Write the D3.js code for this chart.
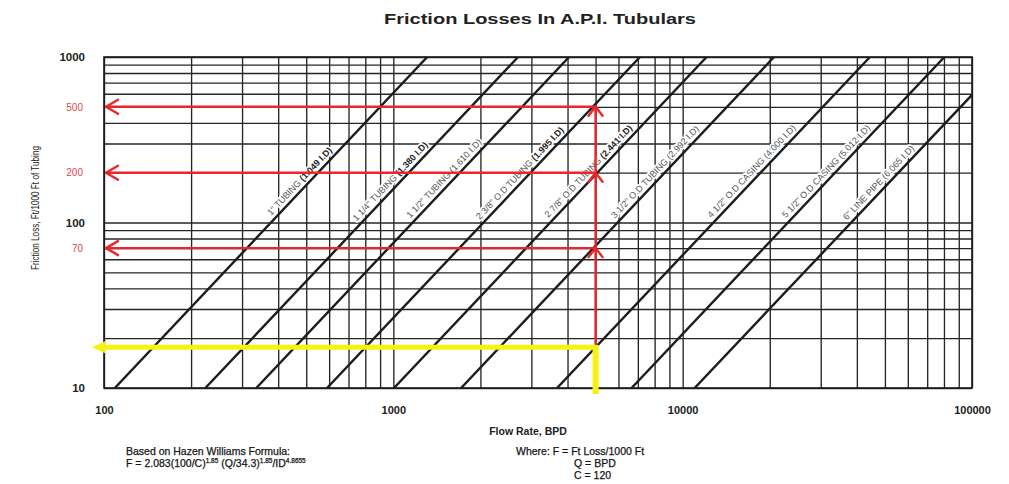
<!DOCTYPE html>
<html>
<head>
<meta charset="utf-8">
<script src="https://cdn.jsdelivr.net/npm/d3@7"></script>
<style>
  html, body { margin: 0; padding: 0; background: #fff; }
  svg { display: block; font-family: "Liberation Sans", Arial, Helvetica, sans-serif; }
</style>
</head>
<body>
<svg id="chart" width="1009" height="484"></svg>
<script>
// ---- Data -------------------------------------------------------------
// API tubular sizes and their inside diameters
const tubularNames = ['1" TUBING', '1 1/4" TUBING', '1 1/2" TUBING', '2 3/8" O.D TUBING',
  '2 7/8" O.D TUBING', '3 1/2" O.D TUBING', '4 1/2" O.D CASING', '5 1/2" O.D CASING', '6" LINE PIPE'];
const tubularIDs = ['1.049', '1.380', '1.610', '1.995', '2.441', '2.992', '4.000', '5.012', '6.065'];

// End points of each friction-loss line (flow in BPD, loss in ft/1000 ft)
const flowAtBottom = [109, 224, 336, 590, 1005, 1715, 3680, 6660, 11000];
const lossAtBottom = [10, 10, 10, 10, 10, 10, 10, 10, 10];
const flowAtTop = [1310, 2700, 4050, 7120, 12100, 20700, 44400, 80300, 100000];
const lossAtTop = [1000, 1000, 1000, 1000, 1000, 1000, 1000, 1000, 590];

// Axis tick labels
const flowTicks = [100, 1000, 10000, 100000];
const lossTicks = [10, 100, 1000];

// Worked reading at 5000 BPD
const readFlow = 5000;
const readLosses = [500, 200, 70];
const casingLoss = 17.6;

// ---- Layout and style ---------------------------------------------------
const plot = { left: 104, right: 972, top: 57, bottom: 388 };
const labelLoss = [165, 165, 172, 185, 190, 188, 190, 190, 162];
const boldId = [true, true, false, true, true, false, false, false, false];
const ink = "#1c1c1c";
const red = "#e8262b";
const yellow = "#f7f311";

const svg = d3.select("#chart");

const x = d3.scaleLog().domain([100, 100000]).range([plot.left, plot.right]);
const y = d3.scaleLog().domain([10, 1000]).range([plot.bottom, plot.top]);

// Grid lines from the log axes
svg.append("g")
  .attr("transform", `translate(0,${plot.bottom})`)
  .call(d3.axisBottom(x).tickSize(-(plot.bottom - plot.top)).tickFormat(""))
  .call(g => g.select(".domain").remove())
  .call(g => g.selectAll(".tick line").attr("stroke", "#262626").attr("stroke-width", 1.35));

svg.append("g")
  .attr("transform", `translate(${plot.left},0)`)
  .call(d3.axisLeft(y).tickSize(-(plot.right - plot.left)).tickFormat(""))
  .call(g => g.select(".domain").remove())
  .call(g => g.selectAll(".tick line").attr("stroke", "#262626").attr("stroke-width", 1.35));

// Frame
svg.append("rect")
  .attr("x", plot.left).attr("y", plot.top)
  .attr("width", plot.right - plot.left).attr("height", plot.bottom - plot.top)
  .attr("fill", "none").attr("stroke", ink).attr("stroke-width", 1.6);

// Tick labels
svg.append("g")
  .attr("transform", `translate(0,${plot.bottom})`)
  .call(d3.axisBottom(x).tickValues(flowTicks).tickFormat(d3.format("d")).tickSize(0).tickPadding(18))
  .call(g => g.select(".domain").remove())
  .call(g => g.selectAll("text").attr("font-size", 11).attr("font-weight", "bold")
    .attr("fill", "#222").attr("font-family", "Liberation Sans, Arial, sans-serif"));

svg.append("g")
  .attr("transform", `translate(${plot.left},0)`)
  .call(d3.axisLeft(y).tickValues(lossTicks).tickFormat(d3.format("d")).tickSize(0).tickPadding(19))
  .call(g => g.select(".domain").remove())
  .call(g => g.selectAll("text").attr("font-size", 11.5).attr("font-weight", "bold")
    .attr("fill", "#222").attr("font-family", "Liberation Sans, Arial, sans-serif"));

svg.append("g")
  .attr("transform", `translate(${plot.left},0)`)
  .call(d3.axisLeft(y).tickValues(readLosses).tickFormat(d3.format("d")).tickSize(0).tickPadding(21))
  .call(g => g.select(".domain").remove())
  .call(g => g.selectAll("text").attr("font-size", 10).attr("fill", "#e04a4a")
    .attr("font-family", "Liberation Sans, Arial, sans-serif"));

// Titles
svg.append("text")
  .attr("x", 540).attr("y", 24)
  .attr("text-anchor", "middle")
  .attr("font-size", 15).attr("font-weight", "bold").attr("fill", "#222")
  .attr("textLength", 312).attr("lengthAdjust", "spacingAndGlyphs")
  .text("Friction Losses In A.P.I. Tubulars");

svg.append("text")
  .attr("transform", "translate(39,208) rotate(-90)")
  .attr("text-anchor", "middle")
  .attr("font-size", 10.5).attr("fill", "#222")
  .attr("textLength", 124).attr("lengthAdjust", "spacingAndGlyphs")
  .text("Friction Loss, Ft/1000 Ft of Tubing");

svg.append("text")
  .attr("x", 528).attr("y", 435)
  .attr("text-anchor", "middle")
  .attr("font-size", 10.5).attr("font-weight", "bold").attr("fill", "#222")
  .text("Flow Rate, BPD");

// Line labels, set along each line
svg.append("clipPath").attr("id", "plot-clip")
  .append("rect")
  .attr("x", plot.left).attr("y", plot.top)
  .attr("width", plot.right - plot.left).attr("height", plot.bottom - plot.top);

const tubulars = tubularNames.map((name, i) => ({
  name, id: tubularIDs[i],
  pts: [[flowAtBottom[i], lossAtBottom[i]], [flowAtTop[i], lossAtTop[i]]],
  labelLoss: labelLoss[i], bold: boldId[i]
}));

function pointAtLoss(t, loss) {
  const [[q0, f0], [q1, f1]] = t.pts;
  const k = (Math.log10(loss) - Math.log10(f0)) / (Math.log10(f1) - Math.log10(f0));
  const lq = Math.log10(q0) + k * (Math.log10(q1) - Math.log10(q0));
  return [x(Math.pow(10, lq)), y(loss)];
}

const labelG = svg.append("g").attr("font-size", 9);
tubulars.forEach(t => {
  const [[q0, f0], [q1, f1]] = t.pts;
  const ang = Math.atan2(y(f1) - y(f0), x(q1) - x(q0)) * 180 / Math.PI;
  const [px, py] = pointAtLoss(t, t.labelLoss);
  const txt = labelG.append("text")
    .attr("transform", `translate(${px},${py}) rotate(${ang})`)
    .attr("y", -4.5)
    .attr("text-anchor", "middle")
    .attr("stroke", "#fff").attr("stroke-width", 3.5).attr("paint-order", "stroke")
    .attr("stroke-linejoin", "round");
  txt.append("tspan").attr("fill", "#555").text(t.name + " ");
  txt.append("tspan").attr("fill", t.bold ? "#222" : "#555")
    .attr("font-weight", t.bold ? "bold" : "normal")
    .text(`(${t.id} I.D)`);
});

// Friction-loss lines
const line = d3.line().x(d => x(d[0])).y(d => y(d[1]));
svg.append("g").attr("clip-path", "url(#plot-clip)")
  .selectAll("path").data(tubulars).join("path")
  .attr("d", d => line(d.pts))
  .attr("fill", "none").attr("stroke", ink).attr("stroke-width", 2.4);

// Worked reading: red arrows
const xr = x(readFlow);
const arrowX = plot.left + 2;
const redG = svg.append("g").attr("stroke", red).attr("stroke-width", 2.4)
  .attr("fill", "none").attr("stroke-linecap", "round").attr("stroke-linejoin", "round");

redG.append("line")
  .attr("x1", xr).attr("x2", xr)
  .attr("y1", y(casingLoss)).attr("y2", y(d3.max(readLosses)));

readLosses.forEach(v => {
  const yy = y(v);
  redG.append("line").attr("x1", xr).attr("x2", arrowX).attr("y1", yy).attr("y2", yy);
  redG.append("path").attr("d", `M${arrowX + 12},${yy - 7} L${arrowX},${yy} L${arrowX + 12},${yy + 7}`);
  redG.append("path").attr("d", `M${xr - 7},${yy + 9} L${xr},${yy} L${xr + 7},${yy + 9}`);
});

// Yellow reading for 4 1/2" casing
const yc = y(casingLoss);
const yG = svg.append("g");
yG.append("line")
  .attr("x1", xr).attr("x2", plot.left - 2)
  .attr("y1", yc).attr("y2", yc)
  .attr("stroke", yellow).attr("stroke-width", 5);
yG.append("path")
  .attr("d", `M${plot.left - 12},${yc} L${plot.left + 1},${yc - 6} L${plot.left + 1},${yc + 6} Z`)
  .attr("fill", yellow);
yG.append("line")
  .attr("x1", xr).attr("x2", xr)
  .attr("y1", yc - 2.5).attr("y2", plot.bottom + 6)
  .attr("stroke", yellow).attr("stroke-width", 6);

// Formula notes
const notes = svg.append("g").attr("font-size", 10.5).attr("fill", "#151515")
  .attr("stroke", "#151515").attr("stroke-width", 0.25);
notes.append("text").attr("x", 126).attr("y", 455).text("Based on Hazen Williams Formula:");
const f = notes.append("text").attr("x", 126).attr("y", 467);
f.append("tspan").text("F = 2.083(100/C)");
f.append("tspan").attr("font-size", 6.5).attr("dy", -4).text("1.85");
f.append("tspan").attr("dy", 4).text(" (Q/34.3)");
f.append("tspan").attr("font-size", 6.5).attr("dy", -4).text("1.85");
f.append("tspan").attr("dy", 4).text("/ID");
f.append("tspan").attr("font-size", 6.5).attr("dy", -4).text("4.8655");

notes.append("text").attr("x", 516).attr("y", 455).text("Where: F = Ft Loss/1000 Ft");
notes.append("text").attr("x", 574).attr("y", 467).text("Q = BPD");
notes.append("text").attr("x", 574).attr("y", 479).text("C = 120");
</script>
</body>
</html>
